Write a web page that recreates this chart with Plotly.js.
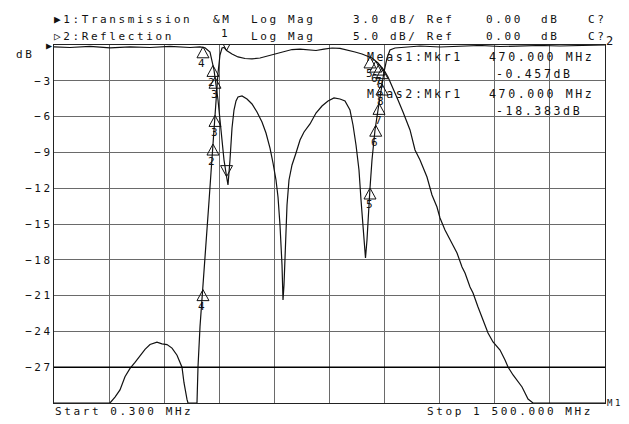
<!DOCTYPE html>
<html><head><meta charset="utf-8">
<script src="https://cdn.plot.ly/plotly-3.0.1.min.js"></script>
<style>
html,body{margin:0;padding:0;background:#fff;}
#chart{width:629px;height:424px;}
text{letter-spacing:2.6px;}
</style></head><body><div id="chart"></div>
<script>
// Channel 1: Transmission (dB), 3 dB/div, ref 0 dB
const transFreq = [0.3,152.7,166.3,179.9,193.5,207.2,220.8,234.4,248.0,261.6,280.6,294.2,307.9,321.5,335.1,348.7,354.1,362.3,365.0,389.5,392.2,397.7,403.1,405.8,411.3,416.7,422.2,427.6,433.0,438.5,443.9,446.7,452.1,457.6,463.0,470.0,484.8,501.1,520.2,539.2,561.0,582.8,604.5,626.3,648.1,669.9,691.6,713.4,735.2,757.0,778.7,800.5,819.6,838.6,854.9,865.8,882.2,898.5,909.4,923.0,936.6,950.2,961.1,969.3,982.9,996.5,1015.5,1029.1,1042.7,1050.9,1064.5,1078.1,1097.2,1110.8,1119.0,1132.6,1140.8,1154.4,1168.0,1181.6,1195.2,1214.3,1227.9,1236.1,1249.7,1263.3,1274.2,1282.3,1290.5,1304.1,1500];
const transDb = [-30,-30,-29.5,-28.9,-27.8,-27.1,-26.6,-26.0,-25.5,-25.1,-24.9,-25.05,-25.1,-25.4,-26.0,-27.0,-28.3,-29.7,-30,-30,-27.0,-23.6,-21.4,-20.5,-17.8,-15.5,-13.1,-10.7,-8.3,-5.9,-3.5,-2.35,-0.84,-0.25,-0.2,-0.457,-0.75,-1.0,-1.13,-1.17,-1.09,-0.92,-0.75,-0.54,-0.38,-0.34,-0.42,-0.46,-0.34,-0.25,-0.29,-0.42,-0.59,-0.75,-0.92,-1.09,-1.51,-2.10,-2.68,-3.60,-4.61,-5.61,-6.54,-7.12,-8.80,-9.64,-11.06,-12.57,-13.58,-14.50,-15.50,-16.34,-17.43,-18.60,-19.11,-20.28,-20.78,-21.96,-23.05,-24.13,-24.89,-25.56,-26.40,-26.98,-27.65,-28.24,-28.66,-29.16,-29.67,-30,-30];

// Channel 2: Reflection (dB), 5 dB/div, ref 0 dB
const reflFreq = [0.3,43.8,98.3,152.7,207.2,261.6,316.0,370.5,397.7,411.3,424.9,435.8,446.7,454.8,463.0,470.0,473.9,479.3,484.8,490.2,495.7,501.1,512.0,525.6,539.2,552.8,566.4,577.3,588.2,596.4,604.5,610.0,615.4,620.9,623.6,626.3,629.0,634.5,639.9,648.1,659.0,669.9,680.8,697.1,713.4,729.7,746.1,762.4,778.7,792.3,805.9,814.1,822.3,830.4,835.9,841.3,844.0,848.1,852.2,854.9,860.4,865.8,874.0,882.2,890.3,898.5,906.7,914.8,928.4,955.6,996.5,1050.9,1105.3,1159.8,1214.2,1268.7,1323.1,1377.5,1431.9,1500];
const reflDb = [-0.25,-0.35,-0.2,-0.4,-0.25,-0.35,-0.2,-0.35,-0.25,-0.4,-0.98,-3.49,-7.68,-11.87,-16.06,-18.383,-19.55,-16.06,-11.59,-9.08,-7.82,-7.26,-7.12,-7.54,-8.24,-9.36,-10.75,-12.29,-14.39,-16.48,-18.85,-21.23,-25.14,-30.73,-35.61,-33.52,-28.63,-22.35,-18.85,-16.76,-15.08,-13.27,-12.15,-11.03,-9.50,-8.52,-7.82,-7.40,-7.54,-7.82,-9.08,-11.17,-13.97,-17.46,-21.65,-25.14,-27.23,-29.75,-27.23,-24.44,-19.97,-16.06,-11.87,-9.08,-6.28,-3.77,-1.82,-0.70,-0.42,-0.28,-0.14,-0.28,-0.14,-0.07,-0.21,-0.14,-0.07,-0.14,-0.07,0];

// Markers
const mkrLabels = ['1','2','3','4','5','6','7','8'];
const mkrFreq = [470.0,433.0,438.5,405.8,860.4,876.0,884.9,893.0];
const mkrTransDb = [-0.457,-8.3,-5.9,-20.5,-1.0,-1.35,-1.6,-1.9];
const mkrReflDb = [-18.383,-2.85,-4.5,-0.25,-19.97,-11.2,-8.15,-5.45];

const yTicks = [-3,-6,-9,-12,-15,-18,-21,-24,-27];
const startMHz = 0.300, stopMHz = 1500.000;
const ch1Scale = 3.0, ch2Scale = 5.0, nDiv = 10;

// layout helpers (pixel -> paper)
const L = 54, R = 24, T = 45, B = 21, W = 629, H = 424;
const pw = W - L - R, ph = H - T - B;
const px = v => (v - L) / pw;
const py = v => (H - B - v) / ph;

const font = {family: 'DejaVu Sans Mono, monospace', size: 11, color: '#111'};
const fontMeas = Object.assign({}, font, {size: 11.6});

const traces = [
  {x: transFreq, y: transDb, type: 'scatter', mode: 'lines', yaxis: 'y',
   line: {color: '#111', width: 1.2}, hoverinfo: 'skip'},
  {x: reflFreq, y: reflDb, type: 'scatter', mode: 'lines', yaxis: 'y2',
   line: {color: '#111', width: 1.2}, hoverinfo: 'skip'}
];

const shapes = [
  {type: 'line', xref: 'paper', x0: 0, x1: 1, yref: 'y', y0: -27, y1: -27,
   line: {color: '#000', width: 1.6}}
];
const tri = up => up ? 'M0,0L-6,-11L6,-11Z' : 'M0,0L-6,11L6,11Z';
const annotations = [];
mkrFreq.forEach((f, i) => {
  const active = i === 0;
  shapes.push({type: 'path', xref: 'x', yref: 'y', xsizemode: 'pixel', ysizemode: 'pixel',
    xanchor: f, yanchor: mkrTransDb[i], path: tri(!active), line: {color: '#111', width: 1}});
  shapes.push({type: 'path', xref: 'x', yref: 'y2', xsizemode: 'pixel', ysizemode: 'pixel',
    xanchor: f, yanchor: mkrReflDb[i], path: tri(!active), line: {color: '#111', width: 1}});
  if (active) {
    annotations.push({x: f, y: mkrTransDb[i], xref: 'x', yref: 'y', text: mkrLabels[i],
      showarrow: false, yshift: 17, xshift: -1, font: font});
  } else {
    annotations.push({x: f, y: mkrTransDb[i], xref: 'x', yref: 'y', text: mkrLabels[i],
      showarrow: false, yshift: -17, font: font});
    annotations.push({x: f, y: mkrReflDb[i], xref: 'x', yref: 'y2', text: mkrLabels[i],
      showarrow: false, yshift: -17, font: font});
  }
});

const txt = (x, y, t, extra) => Object.assign({xref: 'paper', yref: 'paper', x: px(x), y: py(y),
  xanchor: 'left', yanchor: 'middle', text: t, showarrow: false, font: font}, extra || {});

annotations.push(
  txt(52, 19, '▶1:Transmission'), txt(211, 19, '&M'), txt(249, 19, 'Log Mag'),
  txt(351, 19, ch1Scale.toFixed(1) + ' dB/ Ref'), txt(484, 19, '0.00'), txt(539, 19, 'dB'), txt(586, 19, 'C?'),
  txt(52, 36, '▷2:Reflection'), txt(249, 36, 'Log Mag'),
  txt(351, 36, ch2Scale.toFixed(1) + ' dB/ Ref'), txt(484, 36, '0.00'), txt(539, 36, 'dB'), txt(586, 36, 'C?'),
  txt(14, 54, 'dB'),
  txt(365, 57, 'Meas1:Mkr1', {font: fontMeas}), txt(487, 57, mkrFreq[0].toFixed(3) + ' MHz', {font: fontMeas}),
  txt(494, 74, mkrTransDb[0].toFixed(3) + 'dB', {font: fontMeas}),
  txt(365, 94, 'Meas2:Mkr1', {font: fontMeas}), txt(487, 94, mkrFreq[0].toFixed(3) + ' MHz', {font: fontMeas}),
  txt(494, 111, mkrReflDb[0].toFixed(3) + 'dB', {font: fontMeas}),
  txt(53, 411, 'Start ' + startMHz.toFixed(3) + ' MHz'),
  txt(425, 411, 'Stop 1 500.000 MHz'),
  txt(605, 403, 'M1', {font: Object.assign({}, font, {size: 9})}),
  txt(604, 41, '2', {font: Object.assign({}, font, {size: 12})}),
  txt(44, 45, '▶', {font: Object.assign({}, font, {size: 10})})
);

const layout = {
  width: W, height: H, margin: {l: L, r: R, t: T, b: B, pad: 0},
  paper_bgcolor: '#fff', plot_bgcolor: '#fff', showlegend: false,
  font: font,
  xaxis: {range: [startMHz, stopMHz], tick0: startMHz, dtick: (stopMHz - startMHz) / nDiv,
    showgrid: true, gridcolor: '#6a6a6a', gridwidth: 1, zeroline: false,
    showline: true, mirror: true, linecolor: '#222', linewidth: 1,
    showticklabels: false, ticks: ''},
  yaxis: {range: [-ch1Scale * nDiv, 0], tickvals: yTicks, showgrid: true, gridcolor: '#6a6a6a',
    gridwidth: 1, zeroline: false, showline: true, mirror: true, linecolor: '#222', linewidth: 1,
    ticks: '', tickfont: font, ticklabelstandoff: -2},
  yaxis2: {range: [-ch2Scale * nDiv, 0], overlaying: 'y', visible: false},
  shapes: shapes, annotations: annotations
};

Plotly.newPlot('chart', traces, layout, {displayModeBar: false, staticPlot: true});
</script></body></html>
